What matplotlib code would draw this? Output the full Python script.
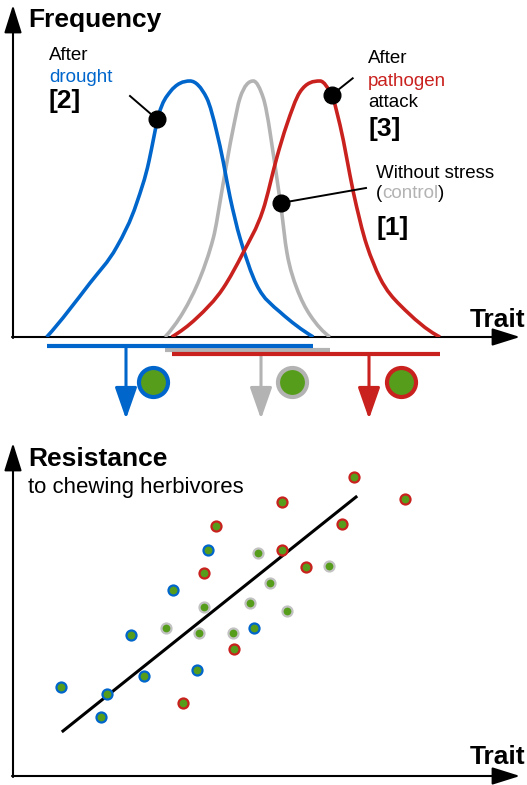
import matplotlib
matplotlib.use('Agg')
from matplotlib import pyplot as plt
from matplotlib import transforms
from matplotlib.path import Path
from matplotlib.patches import PathPatch
import numpy as np

plt.rcParams['font.family'] = ['Liberation Sans', 'DejaVu Sans']

BLUE = '#0066cc'
RED = '#c9211e'
GRAY = '#b3b3b3'
GREEN = '#579d1c'

# ---- top panel: trait distributions ----
# nodes: trait, frequency, and the curve's slope there
control_tx = [152, 170.3, 187, 200.3, 208.7, 220.3, 227, 240.3,
              250.3, 257, 267.7, 274, 283.7, 297, 317]
control_fq = [0, 25, 59, 99, 145, 209, 239, 256,
              239, 205, 132, 84, 49, 22, 0]
control_slope = [1.1, 1.7, 2.5, 3.8, 5.8, 4.8, 3.0, 0,
                 -3.0, -6.5, -7.0, -5.5, -2.7, -1.5, -0.7]

drought_tx = [33.7, 77, 103.7, 123.7, 136, 146, 157, 177,
              193.7, 203.7, 210.3, 217, 227, 243.7, 267, 300.3]
drought_fq = [0, 54, 90, 134, 176, 223, 245, 256,
              239, 205, 175, 140, 99, 52, 25, 0]
drought_slope = [1.1, 1.3, 1.8, 3.0, 4.6, 3.6, 1.3, 0,
                 -2.0, -4.2, -5.0, -4.6, -3.4, -2.0, -0.9, -0.6]

pathogen_tx = [158.7, 183.7, 210.3, 230, 250, 263.7, 273.7, 287, 307,
               319, 327, 333.7, 340.3, 353.7, 367, 387, 427]
pathogen_fq = [0, 19, 49, 84, 127, 179, 212, 245, 256,
               241, 212, 179, 145, 92, 59, 32, 0]
pathogen_slope = [0.6, 0.95, 1.5, 1.95, 3.0, 3.6, 2.9, 1.5, 0,
                  -2.0, -3.9, -4.9, -4.5, -3.0, -2.0, -1.0, -0.5]

curve_tx = [control_tx, drought_tx, pathogen_tx]
curve_fq = [control_fq, drought_fq, pathogen_fq]
curve_slope = [control_slope, drought_slope, pathogen_slope]
colors = [GRAY, BLUE, RED]
bar_level = [-13, -9, -17]
shift_pos = [248, 113, 356]
marker_pos = [279, 140, 388]
pointer_dot = [(267.7, 134), (143.7, 218), (318.7, 242)]
pointer_end = [(353, 149), (117, 241), (339.7, 258.7)]

# ---- bottom panel: resistance vs trait ----
drought_x = [195, 160, 118, 241, 131, 184, 48, 94, 88]
drought_y = [226, 186, 141, 148, 100, 106, 89, 82, 59]
control_x = [245, 316, 257, 191, 237, 153, 186, 220, 274]
control_y = [223, 210, 193, 169, 173, 148, 143, 143, 165]
pathogen_x = [341, 269, 392, 203, 329, 269, 191, 293, 221, 170]
pathogen_y = [299, 274, 277, 250, 252, 226, 203, 209, 127, 73]
trend_x = [50, 343]
trend_y = [45, 279]


def smooth_path(xs, ys, ms):
    # cubic segments between nodes, using the given slope at each node
    verts = [(xs[0], ys[0])]
    codes = [Path.MOVETO]
    for i in range(len(xs) - 1):
        dx = xs[i + 1] - xs[i]
        verts += [(xs[i] + dx / 3, ys[i] + ms[i] * dx / 3),
                  (xs[i + 1] - dx / 3, ys[i + 1] - ms[i + 1] * dx / 3),
                  (xs[i + 1], ys[i + 1])]
        codes += [Path.CURVE4] * 3
    return Path(verts, codes)


def axis_arrows(ax, w, h):
    style = dict(arrowstyle='-|>,head_length=0.86,head_width=0.27', color='black',
                 lw=1.5, mutation_scale=20, shrinkA=0, shrinkB=0)
    ax.annotate('', xy=(0, h), xytext=(0, -1), arrowprops=style, annotation_clip=False)
    ax.annotate('', xy=(w, 0), xytext=(-1, 0), arrowprops=style, annotation_clip=False)


def colored_text(ax, x, y, parts, renderer, **kw):
    t = ax.transData
    for s, c in parts:
        txt = ax.text(x, y, s, color=c, transform=t, **kw)
        ext = txt.get_window_extent(renderer)
        t = transforms.offset_copy(t, x=ext.width, y=0, units='dots')


fig = plt.figure(figsize=(5.27, 7.85), dpi=100)
renderer = fig.canvas.get_renderer()

ax1 = fig.add_axes([13 / 527, 448 / 785, 507 / 527, 332 / 785])
ax1.set_xlim(0, 507)
ax1.set_ylim(0, 332)
ax1.axis('off')
axis_arrows(ax1, 507, 332)

zs = [3, 4, 5]
for i in range(3):
    ax1.add_patch(PathPatch(smooth_path(curve_tx[i], curve_fq[i], curve_slope[i]),
                            fill=False, edgecolor=colors[i], lw=2.6, zorder=zs[i],
                            capstyle='butt'))
    x0, x1 = curve_tx[i][0], curve_tx[i][-1]
    ax1.plot([x0, x1], [bar_level[i], bar_level[i]], color=colors[i],
             lw=3, clip_on=False, zorder=zs[i], solid_capstyle='butt')
    ax1.annotate('', xy=(shift_pos[i], -82), xytext=(shift_pos[i], bar_level[i]),
                 arrowprops=dict(arrowstyle='-|>,head_length=0.97,head_width=0.34',
                                 color=colors[i], lw=2.2, mutation_scale=20,
                                 shrinkA=0, shrinkB=0), annotation_clip=False)
    ax1.plot(marker_pos[i], -45, 'o', ms=20.9, mfc=GREEN, mec=colors[i], mew=3,
             clip_on=False)
    (dx, dy), (ex, ey) = pointer_dot[i], pointer_end[i]
    ax1.plot([ex, dx], [ey, dy], color='black', lw=1.4, zorder=6)
    ax1.plot(dx, dy, 'o', color='black', ms=12, zorder=7)

bold = dict(fontsize=19, fontweight='bold', va='baseline')
norm = dict(fontsize=13.5, va='baseline')
ax1.text(15, 310, 'Frequency', **bold)
ax1.text(457, 10, 'Trait', **bold)
ax1.text(36, 277, 'After', **norm)
ax1.text(36, 255, 'drought', color=BLUE, **norm)
ax1.text(36, 229, '[2]', **bold)
ax1.text(355, 274, 'After', **norm)
ax1.text(355, 251, 'pathogen', color=RED, **norm)
ax1.text(355, 230, 'attack', **norm)
ax1.text(355, 201, '[3]', **bold)
ax1.text(363, 159.5, 'Without stress', **norm)
colored_text(ax1, 363, 139, [('(', 'black'), ('control', GRAY), (')', 'black')],
             renderer, **norm)
ax1.text(363, 102, '[1]', **bold)

ax2 = fig.add_axes([13 / 527, 9 / 785, 507 / 527, 333 / 785])
ax2.set_xlim(0, 507)
ax2.set_ylim(0, 333)
ax2.axis('off')
axis_arrows(ax2, 507, 333)

ax2.plot(trend_x, trend_y, color='black', lw=2.2, zorder=2)
ax2.scatter(control_x, control_y, s=52, c=GREEN, edgecolors='#c2c2c2', linewidths=1.6,
            zorder=3)
ax2.scatter(drought_x, drought_y, s=52, c=GREEN, edgecolors=BLUE, linewidths=1.6,
            zorder=3)
ax2.scatter(pathogen_x, pathogen_y, s=52, c=GREEN, edgecolors=RED, linewidths=1.6,
            zorder=3)

ax2.text(15, 310, 'Resistance', **bold)
ax2.text(15, 283, 'to chewing herbivores', fontsize=15.9, va='baseline')
ax2.text(457, 12, 'Trait', **bold)

fig.savefig('out.png', dpi=100)
